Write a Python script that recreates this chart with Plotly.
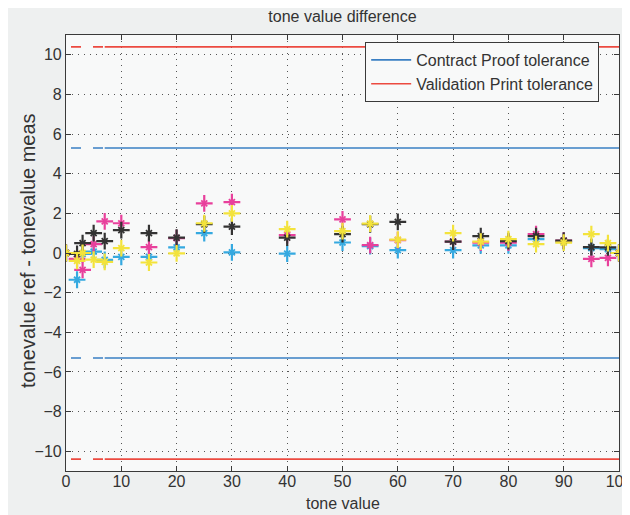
import plotly.graph_objects as go

# ---- data ----
tone = [0, 2, 3, 5, 7, 10, 15, 20, 25, 30, 40, 50, 55, 60, 70, 75, 80, 85, 90, 95, 98, 100]
diff_c = [0, -1.35, -0.05, 0.07, -0.35, -0.2, -0.2, 0.28, 1.0, 0.03, -0.03, 0.53, 0.35, 0.15, 0.15, 0.38, 0.38, 0.7, 0.57, 0.25, 0.2, 0]
diff_m = [0, -0.3, -0.85, 0.45, 1.6, 1.5, 0.3, 0.75, 2.5, 2.57, 0.9, 1.7, 0.4, 0.65, 0.57, 0.52, 0.52, 0.95, 0.62, -0.3, -0.25, 0]
diff_k = [0, -0.05, 0.5, 1.0, 0.6, 1.15, 1.0, 0.78, 1.45, 1.33, 0.78, 0.95, 1.45, 1.57, 0.57, 0.85, 0.6, 0.85, 0.62, 0.3, 0.28, 0]
diff_y = [0, -0.4, 0.0, -0.33, -0.45, 0.25, -0.48, -0.02, 1.5, 2.0, 1.2, 1.1, 1.48, 0.67, 1.0, 0.57, 0.7, 0.45, 0.52, 0.95, 0.5, 0]

contract_tol = 5.3
validation_tol = 10.4
dash_end_tone = 7

x_ticks = list(range(0, 101, 10))
y_ticks = list(range(-10, 11, 2))

series = [
    ("cyan", diff_c, "#35a9e0"),
    ("magenta", diff_m, "#e8409c"),
    ("black", diff_k, "#333333"),
    ("yellow", diff_y, "#f3e33c"),
]

fig = go.Figure()

# tolerance lines
for name, tol, col in [("Contract Proof tolerance", contract_tol, "#3a7fc3"),
                       ("Validation Print tolerance", validation_tol, "#ec4a40")]:
    xs_dash = [t for t in tone if t <= dash_end_tone]
    xs_solid = [t for t in tone if t >= dash_end_tone]
    for sign in (1, -1):
        fig.add_trace(go.Scatter(x=xs_dash, y=[sign * tol] * len(xs_dash), mode="lines",
                                 line=dict(color=col, width=1.6, dash="0px,5px,10px,7px"),
                                 showlegend=False, hoverinfo="skip"))
        fig.add_trace(go.Scatter(x=xs_solid, y=[sign * tol] * len(xs_solid), mode="lines",
                                 line=dict(color=col, width=1.6),
                                 name=name, legendgroup=name,
                                 showlegend=(sign == 1)))

# measured points (star-like markers)
for name, vals, col in series:
    fig.add_trace(go.Scatter(x=tone, y=vals, mode="markers", name=name,
                             marker=dict(symbol="cross-thin-open", size=12, color=col,
                                         line=dict(color=col, width=2.2)),
                             showlegend=False))
    fig.add_trace(go.Scatter(x=tone, y=vals, mode="markers", name=name,
                             marker=dict(symbol="x-thin-open", size=6, color=col,
                                         line=dict(color=col, width=1.8)),
                             showlegend=False, hoverinfo="skip"))

axis_common = dict(
    showline=True, linecolor="#3a3a3a", linewidth=1.2, mirror="ticks",
    ticks="inside", ticklen=5, tickcolor="#3a3a3a", tickwidth=1.2,
    showgrid=True, gridcolor="#555555", gridwidth=1.2, griddash="1px,5px",
    zeroline=False, tickfont=dict(size=16, color="#333333"),
    ticklabeloverflow="allow", automargin=False,
)

fig.update_layout(
    width=622, height=507,
    margin=dict(l=58, r=11, t=27, b=44, autoexpand=False),
    paper_bgcolor="#eef0f0", plot_bgcolor="#f8f9f9",
    font=dict(family="Liberation Sans, Arial, sans-serif", color="#333333", size=16),
    title=dict(text="tone value difference", x=0.5, xanchor="center", xref="paper",
               y=0.984, yanchor="middle", yref="container", font=dict(size=16)),
    xaxis=dict(range=[0, 100], tickvals=x_ticks, ticklabelstandoff=-4, **axis_common),
    yaxis=dict(range=[-11, 11], tickvals=y_ticks, **axis_common),
    annotations=[
        dict(text="tonevalue ref - tonevalue meas", textangle=-90,
             xref="paper", yref="paper", x=0, y=0.5, xshift=-38, yshift=2,
             xanchor="center", yanchor="middle", showarrow=False,
             font=dict(size=20, color="#333333")),
        dict(text="tone value", xref="paper", yref="paper", x=0.5, y=0, yshift=-32,
             xanchor="center", yanchor="middle", showarrow=False,
             font=dict(size=16, color="#333333")),
    ],
    legend=dict(x=0.541, y=0.984, xanchor="left", yanchor="top",
                bgcolor="#f8f9f9", bordercolor="#3a3a3a", borderwidth=1,
                font=dict(size=16), tracegroupgap=0, itemwidth=40),
    showlegend=True,
)

fig.write_html("out.html")
